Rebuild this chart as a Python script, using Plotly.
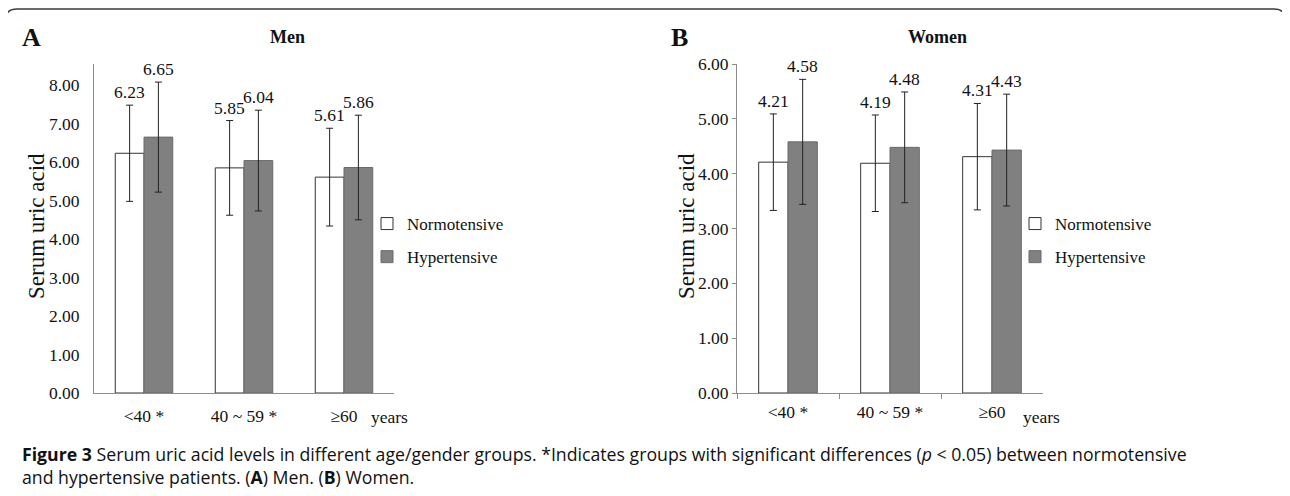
import plotly.graph_objects as go

# ---- data ----
categories = ["<40 *", "40 ~ 59 *", "≥60"]
series_names = ["Normotensive", "Hypertensive"]

men_normo = [6.23, 5.85, 5.61]
men_normo_sd = [1.25, 1.23, 1.27]
men_hyper = [6.65, 6.04, 5.86]
men_hyper_sd = [1.43, 1.31, 1.36]

women_normo = [4.21, 4.19, 4.31]
women_normo_sd = [0.88, 0.88, 0.97]
women_hyper = [4.58, 4.48, 4.43]
women_hyper_sd = [1.14, 1.01, 1.02]

men_ticks = [0, 1, 2, 3, 4, 5, 6, 7, 8]
women_ticks = [0, 1, 2, 3, 4, 5, 6]

W, H = 1290, 496
OFF = 8  # page body margin
SERIF = "Liberation Serif, Times New Roman, serif"
normo_fill = "#ffffff"
hyper_fill = "#808080"


def px(x):
    return (x - OFF) / W


def py(y):
    return 1 - (y - OFF) / H


fig = go.Figure()

panels = [
    ("x", "y", "legend", men_normo, men_normo_sd, men_hyper, men_hyper_sd),
    ("x2", "y2", "legend2", women_normo, women_normo_sd, women_hyper, women_hyper_sd),
]

for xa, ya, lg, nv, nsd, hv, hsd in panels:
    fig.add_trace(go.Bar(
        x=categories, y=nv, name=series_names[0], xaxis=xa, yaxis=ya, legend=lg,
        legendgroup=lg + "n",
        marker=dict(color=normo_fill, line=dict(color="#333333", width=1)),
        error_y=dict(type="data", array=nsd, visible=True, color="#222222", thickness=1, width=3.5),
        hoverinfo="skip",
    ))
    fig.add_trace(go.Bar(
        x=categories, y=hv, name=series_names[1], xaxis=xa, yaxis=ya, legend=lg,
        legendgroup=lg + "h",
        marker=dict(color=hyper_fill, line=dict(color="#6a6a6a", width=1)),
        error_y=dict(type="data", array=hsd, visible=True, color="#222222", thickness=1, width=3.5),
        hoverinfo="skip",
    ))

annotations = []
# value labels above error bars
for xr, yr, nv, nsd, hv, hsd, shift in [
    ("x", "y", men_normo, men_normo_sd, men_hyper, men_hyper_sd, 14.4),
    ("x2", "y2", women_normo, women_normo_sd, women_hyper, women_hyper_sd, 14.7),
]:
    for i, c in enumerate(categories):
        for v, sd, s in [(nv[i], nsd[i], -shift), (hv[i], hsd[i], shift)]:
            annotations.append(dict(
                x=c, y=v + sd, xref=xr, yref=yr, text=f"{v:.2f}", showarrow=False,
                xshift=s, yshift=1, xanchor="center", yanchor="bottom",
                font=dict(family=SERIF, size=17.5, color="#111111"),
            ))


def paper_text(x, y, text, font, **kw):
    d = dict(x=px(x), y=py(y), xref="paper", yref="paper", text=text, showarrow=False,
             xanchor="center", yanchor="middle", font=font)
    d.update(kw)
    return d


# panel letters and titles
for letter, lx, title, tx in [("A", 31, "Men", 287), ("B", 679, "Women", 937)]:
    annotations.append(paper_text(lx, 37, f"<b>{letter}</b>", dict(family=SERIF, size=26, color="#111111")))
    annotations.append(paper_text(tx, 37, f"<b>{title}</b>", dict(family=SERIF, size=18, color="#111111")))

# y-axis titles
for tx in [37, 687]:
    annotations.append(paper_text(tx, 226, "Serum uric acid", dict(family=SERIF, size=23, color="#111111"),
                                  textangle=-90))

# "years" labels
for tx in [389, 1041]:
    annotations.append(paper_text(tx, 417, "years", dict(family=SERIF, size=17.5, color="#111111")))

# caption
cap_font = dict(family="Open Sans, sans-serif", size=17.7, color="#111111")
annotations.append(paper_text(
    20, 454,
    "<b>Figure 3</b> Serum uric acid levels in different age/gender groups. *Indicates groups with "
    "significant differences (<i>p</i> &lt; 0.05) between normotensive",
    cap_font, xanchor="left"))
annotations.append(paper_text(
    20, 477, "and hypertensive patients. (<b>A</b>) Men. (<b>B</b>) Women.", cap_font, xanchor="left"))

# outer rounded frame (open at bottom)
xl, xr_, yt, yb = px(5), px(1286), py(9), -0.2
rx, ry = 12 / W, 12 / H
frame = (f"M {xl},{yb} L {xl},{yt - ry} Q {xl},{yt} {xl + rx},{yt} "
         f"L {xr_ - rx},{yt} Q {xr_},{yt} {xr_},{yt - ry} L {xr_},{yb}")

axis_common = dict(showgrid=False, zeroline=False, showline=True, linecolor="#8c8c8c", linewidth=1,
                   automargin=False,
                   tickfont=dict(family=SERIF, size=17.5, color="#111111"))

fig.update_layout(
    width=W, height=H,
    margin=dict(l=0, r=0, t=0, b=0, autoexpand=False),
    paper_bgcolor="white", plot_bgcolor="white",
    barmode="group", bargap=0.425, bargroupgap=0,
    xaxis=dict(domain=[px(94), px(394)], anchor="y", ticks="", ticklabelstandoff=7, **axis_common),
    yaxis=dict(domain=[py(393), py(64)], anchor="x", range=[0, 8.55], tickvals=men_ticks,
               tickformat=".2f", ticks="", ticklabelstandoff=10, **axis_common),
    xaxis2=dict(domain=[px(737), px(1043)], anchor="y2", ticks="outside", ticklen=5, tickcolor="#8c8c8c",
                tickson="boundaries", ticklabelstandoff=3, **axis_common),
    yaxis2=dict(domain=[py(393), py(64)], anchor="x2", range=[0, 6], tickvals=women_ticks,
                tickformat=".2f", ticks="outside", ticklen=4, tickcolor="#8c8c8c", **axis_common),
    legend=dict(x=px(367), y=py(206), xanchor="left", yanchor="top", bgcolor="rgba(0,0,0,0)",
                traceorder="grouped", tracegroupgap=8,
                font=dict(family=SERIF, size=17, color="#111111")),
    legend2=dict(x=px(1015), y=py(206), xanchor="left", yanchor="top", bgcolor="rgba(0,0,0,0)",
                 traceorder="grouped", tracegroupgap=8,
                 font=dict(family=SERIF, size=17, color="#111111")),
    annotations=annotations,
    shapes=[dict(type="path", xref="paper", yref="paper", path=frame,
                 line=dict(color="#3a3a3a", width=1.5))],
    showlegend=True,
)

fig.write_html("out.html")
